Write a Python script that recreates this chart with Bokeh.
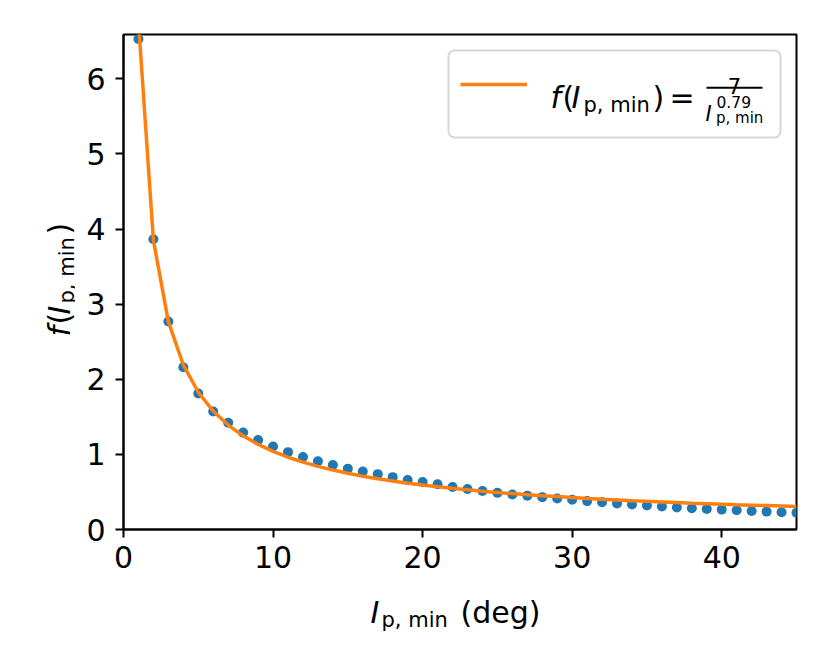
import math
from bokeh.plotting import figure
from bokeh.layouts import column, row
from bokeh.models import Range1d, FixedTicker, Label, Legend, LegendItem, BoxAnnotation
from bokeh.core.enums import CoordinateUnits
from bokeh.embed import file_html
from bokeh.resources import INLINE

# ---------------- data ----------------
x_vals = list(range(1, 46))
data_vals = [6.53, 3.865, 2.77, 2.16, 1.81, 1.57, 1.42, 1.29, 1.19, 1.105,
             1.03, 0.966, 0.908, 0.858, 0.81, 0.773, 0.737, 0.697, 0.66, 0.632,
             0.603, 0.566, 0.539, 0.512, 0.488, 0.467, 0.449, 0.431, 0.413, 0.396,
             0.378, 0.362, 0.346, 0.333, 0.319, 0.306, 0.294, 0.283, 0.274, 0.265,
             0.256, 0.247, 0.238, 0.230, 0.222]
fit_vals = [6.76, 3.848, 2.767, 2.190, 1.827, 1.575, 1.390, 1.247, 1.133, 1.040,
            0.962, 0.897, 0.840, 0.791, 0.748, 0.710, 0.675, 0.645, 0.617, 0.592,
            0.569, 0.548, 0.528, 0.510, 0.494, 0.478, 0.464, 0.450, 0.438, 0.426,
            0.414, 0.404, 0.394, 0.384, 0.375, 0.367, 0.359, 0.351, 0.344, 0.337,
            0.330, 0.324, 0.318, 0.312, 0.306]
x_ticks = [0, 10, 20, 30, 40]
y_ticks = [0, 1, 2, 3, 4, 5, 6]

# ---------------- layout (page pixel positions) ----------------
W, H = 822, 656          # whole page area
X0, Y1 = 75, 585         # main figure spans x X0..W, y 0..Y1
FL, FR, FT, FB = 123, 796, 34, 529   # plot frame edges on the page
FONT = "DejaVu Sans"
CANVAS_OK = "canvas" in CoordinateUnits

p = figure(width=W - X0, height=Y1, x_range=Range1d(0, 45), y_range=Range1d(0, 6.59),
           output_backend="svg", toolbar_location=None,
           min_border_left=FL - X0, min_border_right=W - FR,
           min_border_top=FT, min_border_bottom=Y1 - FB)
p.grid.visible = False
p.background_fill_color = "white"
p.border_fill_color = "white"
p.outline_line_color = "black"
p.outline_line_width = 2

for ax in (p.xaxis[0], p.yaxis[0]):
    ax.axis_line_width = 2
    ax.major_tick_line_width = 2
    ax.major_tick_out = 8
    ax.major_tick_in = 0
    ax.minor_tick_line_color = None
    ax.major_label_text_font = FONT
    ax.major_label_text_font_size = "30px"
    ax.major_label_text_color = "black"
p.xaxis[0].ticker = FixedTicker(ticks=x_ticks)
p.yaxis[0].ticker = FixedTicker(ticks=y_ticks)
p.xaxis[0].major_label_standoff = 8
p.yaxis[0].major_label_standoff = 10

p.scatter(x_vals, data_vals, size=10, color="#1f77b4", line_color=None)
line_r = p.line(x_vals, fit_vals, line_color="#ff7f0e", line_width=3.5)


def blank_fig(w, h):
    f = figure(width=w, height=h, x_range=Range1d(0, 1), y_range=Range1d(0, 1),
               output_backend="svg", toolbar_location=None, title=None,
               x_axis_type=None, y_axis_type=None, min_border=0)
    f.grid.visible = False
    f.outline_line_color = None
    f.background_fill_color = "white"
    f.border_fill_color = "white"
    return f


ylab_fig = blank_fig(X0, Y1)
xlab_fig = blank_fig(W, H - Y1)


def lab(fig, ox, oy, fh, text, px, py, size, italic=False, angle=0.0, align="left"):
    """px, py: page position; (ox, oy) page offset of fig; fh: fig height."""
    if CANVAS_OK:
        kw = dict(x=px - ox, y=py - oy, x_units="canvas", y_units="canvas")
    else:
        kw = dict(x=px - ox, y=oy + fh - py, x_units="screen", y_units="screen")
    fig.add_layout(Label(text=text, text_font=FONT, text_font_size=f"{size}px",
                         text_font_style="italic" if italic else "normal",
                         text_align=align, text_baseline="alphabetic",
                         angle=angle, text_color="black", level="overlay", **kw))


def main_lab(text, px, py, size, italic=False, align="left"):
    p.add_layout(Label(x=px - FL, y=FB - py, x_units="screen", y_units="screen",
                       text=text, text_font=FONT, text_font_size=f"{size}px",
                       text_font_style="italic" if italic else "normal",
                       text_align=align, text_baseline="alphabetic",
                       text_color="black", level="overlay"))


def x_lab(*a, **k):
    lab(xlab_fig, 0, Y1, H - Y1, *a, **k)


def y_lab(*a, **k):
    lab(ylab_fig, 0, 0, Y1, *a, **k)


# ---------------- legend frame + handle ----------------
frame_box = BoxAnnotation(left=448 - FL, right=780 - FL, bottom=FB - 137, top=FB - 50,
                          left_units="screen", right_units="screen",
                          top_units="screen", bottom_units="screen",
                          fill_color="white", fill_alpha=0.8,
                          line_color="#d6d6d6", line_width=2, line_alpha=1.0)
if "border_radius" in BoxAnnotation.properties():
    frame_box.border_radius = 6
p.add_layout(frame_box)

leg = Legend(items=[LegendItem(label=" ", renderers=[line_r])],
             location=(460 - FL, FB - 94), padding=0, margin=0, spacing=0,
             glyph_width=67, glyph_height=20, label_standoff=0,
             label_width=10, label_height=20,
             border_line_color=None, background_fill_alpha=0.0,
             label_text_font_size="8px")
p.add_layout(leg)

# legend text: f(I_p,min) = 7 / I_p,min^0.79
main_lab("f", 550, 97, 30, italic=True)
main_lab("(", 562, 97, 30)
main_lab("I", 571, 97, 30, italic=True)
main_lab("p, min", 583, 104, 21)
main_lab(")", 652, 97, 30)
main_lab("=", 669, 97, 30)
main_lab("7", 734, 85, 21, align="center")
p.add_layout(BoxAnnotation(left=706 - FL, right=762 - FL, bottom=FB - 88.3, top=FB - 86.3,
                           left_units="screen", right_units="screen",
                           top_units="screen", bottom_units="screen",
                           fill_color="black", fill_alpha=1.0, line_color=None, level="overlay"))
main_lab("I", 705, 113, 21, italic=True)
main_lab("0.79", 716, 101.5, 15.5)
main_lab("p, min", 715.5, 117.5, 15)

# x axis label: I_p,min (deg)
x_lab("I", 370, 612, 30, italic=True)
x_lab("p, min", 381, 619, 21)
x_lab("(deg)", 460, 612, 30)

# y axis label: f(I_p,min), rotated
A = math.pi / 2
y_lab("f", 59, 336, 30, italic=True, angle=A)
y_lab("(", 59, 324, 30, angle=A)
y_lab("I", 59, 314, 30, italic=True, angle=A)
y_lab("p, min", 66, 303, 21, angle=A)
y_lab(")", 59, 234, 30, angle=A)

page = column(row(ylab_fig, p, spacing=0), xlab_fig, spacing=0)
open("out.html", "w").write(file_html(page, INLINE))
